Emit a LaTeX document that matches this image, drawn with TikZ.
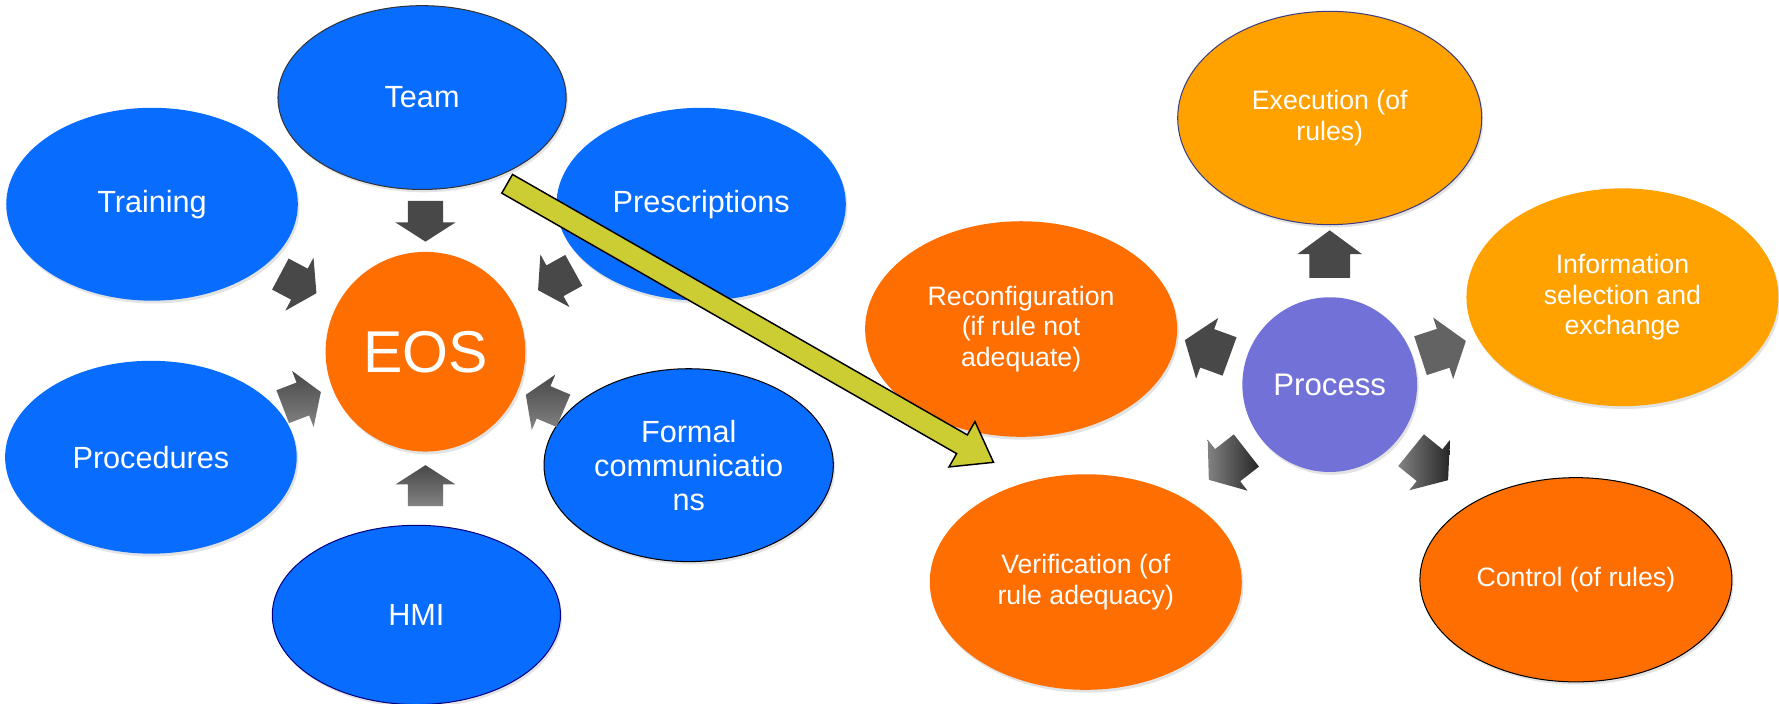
\documentclass[tikz,border=0pt]{standalone}
\usepackage{fontspec}
\setmainfont{Liberation Sans}
\usetikzlibrary{shapes.geometric,shadows}
\definecolor{eblue}{RGB}{8,108,255}
\definecolor{eorange}{RGB}{255,110,0}
\definecolor{yorange}{RGB}{255,162,0}
\definecolor{procblue}{RGB}{113,113,216}
\definecolor{yarrowc}{RGB}{204,204,51}
\definecolor{darr}{RGB}{72,72,72}
\definecolor{darrlight}{RGB}{130,130,130}
\definecolor{navyedge}{RGB}{60,60,130}

\tikzset{
  bubble/.style={ellipse, inner sep=0pt, text=white, align=center,
    drop shadow={shadow xshift=1.5pt, shadow yshift=-2.5pt, opacity=0.22}},
  blueb/.style={bubble, fill=eblue, font=\fontsize{27}{30}\selectfont},
  orb/.style={bubble, fill=eorange, font=\fontsize{23.5}{27}\selectfont},
  yob/.style={bubble, fill=yorange, font=\fontsize{23.5}{27}\selectfont},
  edged/.style={draw=#1, line width=0.9pt},
  arrdark/.style={fill=darr},
  arrgrad/.style={top color=darr, bottom color=darrlight},
  arrgradb/.style={left color=darrlight, right color=black!85},
  yarrow/.style={fill=yarrowc, draw=black, line width=1.3pt, line join=miter},
}

% small block arrow, left group: position, angle, style
\newcommand\smallarr[3]{%
  \path[#3, shift={(#1)}, rotate=#2]
    (-18,-15.5) -- (1,-15.5) -- (1,-26.5) -- (18,0) -- (1,26.5) -- (1,15.5) -- (-18,15.5) -- cycle;}
% block arrow, right group
\newcommand\bigarr[3]{%
  \path[#3, shift={(#1)}, rotate=#2]
    (-21,-18) -- (0,-18) -- (0,-28.5) -- (21,0) -- (0,28.5) -- (0,18) -- (-21,18) -- cycle;}

\begin{document}
\begin{tikzpicture}[x=1pt, y=-1pt]
\fill[white] (0,0) rectangle (1568,620);
\useasboundingbox (0,0) rectangle (1568,620);

% ---------------- left group ----------------
\node[blueb, edged=black!80, minimum width=254pt, minimum height=162pt] (team) at (372,86) {Team};
\node[blueb, minimum width=257pt, minimum height=170pt] (training) at (134,180) {Training};
\node[blueb, minimum width=255pt, minimum height=170pt] (prescriptions) at (618,180) {Prescriptions};
\node[blueb, minimum width=257pt, minimum height=170pt] (procedures) at (133,403) {Procedures};
\node[blueb, edged=blue!50!black, minimum width=254pt, minimum height=158pt] (hmi) at (367,542) {HMI};
\node[blueb, edged=black, minimum width=255pt, minimum height=170pt] (formal) at (607,410) {Formal\\communicatio\\ns};
\node[circle, inner sep=0pt, minimum size=176pt, fill=eorange, text=white,
      font=\fontsize{52}{56}\selectfont,
      drop shadow={shadow xshift=1.5pt, shadow yshift=-2.5pt, opacity=0.22}] (eos) at (375,310) {EOS};

\smallarr{375,195}{-90}{arrdark}
\smallarr{263,250}{-28}{arrdark}
\smallarr{490,247}{-151}{arrdark}
\smallarr{266,352}{21}{arrgrad}
\smallarr{480,355}{157}{arrgrad}
\smallarr{375,428}{90}{arrgrad}

% ---------------- right group ----------------
\node[yob, edged=navyedge, minimum width=268pt, minimum height=188pt] (execution) at (1172,104) {Execution (of\\rules)};
\node[yob, minimum width=275pt, minimum height=192pt] (information) at (1430,262) {Information\\selection and\\exchange};
\node[orb, minimum width=275pt, minimum height=190pt] (reconfiguration) at (900,290) {Reconfiguration\\(if rule not\\adequate)};
\node[orb, minimum width=275pt, minimum height=190pt] (verification) at (957,513) {Verification (of\\rule adequacy)};
\node[orb, edged=black, minimum width=275pt, minimum height=180pt] (control) at (1389,511) {Control (of rules)};
\node[circle, inner sep=0pt, minimum size=154pt, fill=procblue, text=white,
      font=\fontsize{27.5}{30}\selectfont,
      drop shadow={shadow xshift=1.5pt, shadow yshift=-2.5pt, opacity=0.22}] (process) at (1172,339) {Process};

\bigarr{1172,224}{90}{arrdark}
\bigarr{1064,307}{160}{arrdark}
\bigarr{1272,307}{18}{fill=darr!85!white}
\bigarr{1082,410}{218}{arrgradb}
\bigarr{1260,410}{-39}{arrgradb}

% ---------------- big yellow arrow ----------------
\coordinate (ytail) at (447,162);
\path[yarrow, shift={(ytail)}, rotate=-29.8]
  (0,-9.5) -- (462,-9.5) -- (462,-23) -- (494,0) -- (462,23) -- (462,9.5) -- (0,9.5) -- cycle;
\end{tikzpicture}
\end{document}
